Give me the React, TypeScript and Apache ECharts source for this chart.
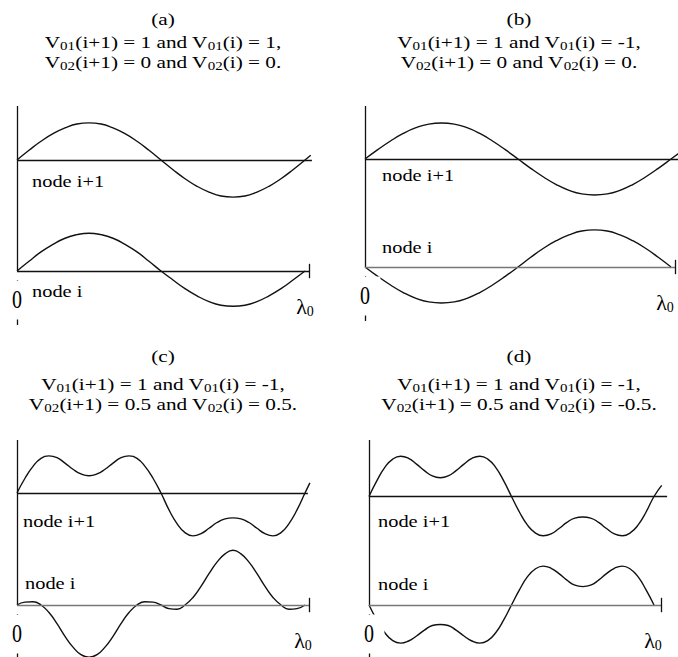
import React, { useEffect, useRef } from "react";
import * as echarts from "echarts";

// ---------- text content ----------
const PANEL_TAGS = ["(a)", "(b)", "(c)", "(d)"];
const V01_NEXT = ["1", "1", "1", "1"];
const V01_CUR = ["1", "-1", "-1", "-1"];
const V02_NEXT = ["0", "0", "0.5", "0.5"];
const V02_CUR = ["0", "0", "0.5", "-0.5"];
const NODE_LABELS = ["node i+1", "node i"];
const X_TICK_VALUES = [0, 1];
const X_TICK_LABELS = ["0", "λ{s|0}"];

// ---------- curve samples (equal steps over one wavelength, x = 0 … 1) ----------
// (a) 24 steps
const A_NEXT = [0, 0.27, 0.52, 0.73, 0.89, 1.0, 1.03, 1.0, 0.89, 0.73, 0.52, 0.27, 0, -0.27, -0.52, -0.73, -0.89, -1.0, -1.03, -1.0, -0.89, -0.73, -0.52, -0.27, 0];
const A_CUR = [0, 0.27, 0.53, 0.74, 0.91, 1.01, 1.05, 1.01, 0.91, 0.74, 0.53, 0.27, 0, -0.25, -0.49, -0.69, -0.85, -0.95, -0.98, -0.95, -0.85, -0.69, -0.49, -0.25, 0];
const A_NEXT_TAIL = [[1.02, 0.13]];
// (b) 24 steps
const B_NEXT = [0, 0.26, 0.5, 0.71, 0.87, 0.97, 1.0, 0.97, 0.87, 0.71, 0.5, 0.26, 0, -0.26, -0.5, -0.71, -0.87, -0.97, -1.0, -0.97, -0.87, -0.71, -0.5, -0.26, 0];
const B_CUR = [0, -0.26, -0.5, -0.71, -0.87, -0.97, -1.0, -0.97, -0.87, -0.71, -0.5, -0.26, 0, 0.27, 0.52, 0.73, 0.89, 1.0, 1.03, 1.0, 0.89, 0.73, 0.52, 0.27, 0];
const B_NEXT_TAIL = [[1.03, 0.19]];
// (c) 36 steps
const C_NEXT = [0, 0.41, 0.74, 0.96, 1.03, 0.98, 0.83, 0.66, 0.53, 0.48, 0.53, 0.66, 0.83, 0.98, 1.03, 0.96, 0.74, 0.41, 0, -0.47, -0.85, -1.1, -1.19, -1.13, -0.98, -0.82, -0.72, -0.69, -0.72, -0.82, -0.98, -1.13, -1.19, -1.1, -0.85, -0.47, 0];
const C_CUR = [0, 0.08, 0.09, 0, -0.21, -0.52, -0.87, -1.17, -1.38, -1.45, -1.38, -1.17, -0.87, -0.52, -0.21, 0, 0.09, 0.08, 0, -0.1, -0.12, 0, 0.21, 0.52, 0.87, 1.19, 1.42, 1.52, 1.42, 1.19, 0.87, 0.52, 0.21, 0, -0.12, -0.1, 0];
const C_NEXT_TAIL = [[1.017, 0.28]];
// (d) 36 steps
const D_NEXT = [0, 0.44, 0.81, 1.04, 1.12, 1.06, 0.9, 0.72, 0.57, 0.52, 0.57, 0.72, 0.9, 1.06, 1.12, 1.04, 0.81, 0.44, 0, -0.43, -0.79, -1.01, -1.09, -1.04, -0.89, -0.72, -0.6, -0.57, -0.6, -0.72, -0.89, -1.04, -1.09, -1.01, -0.79, -0.43, 0];
const D_CUR = [0, -0.42, -0.77, -0.99, -1.06, -1.0, -0.86, -0.7, -0.57, -0.54, -0.57, -0.7, -0.86, -1.0, -1.06, -0.99, -0.77, -0.42, 0, 0.42, 0.78, 1.0, 1.08, 1.02, 0.87, 0.69, 0.55, 0.51, 0.55, 0.69, 0.87, 1.02, 1.08, 1.0, 0.78, 0.42, 0];
const D_NEXT_TAIL = [[1.027, 0.31]];

const NEXT_SERIES = [A_NEXT, B_NEXT, C_NEXT, D_NEXT];
const CUR_SERIES = [A_CUR, B_CUR, C_CUR, D_CUR];
const NEXT_TAILS = [A_NEXT_TAIL, B_NEXT_TAIL, C_NEXT_TAIL, D_NEXT_TAIL];

// ---------- layout (pixels) ----------
const FONT = "Liberation Serif";
const UNIT_PX = 36;
const BELOW_PX = 60;
const X_SPAN = 1.06;
const LAYOUT = [
  { left: 17, top: 106, baseline: 271, next: 160, period: 288, xEnd: 1.014, nextEnd: 1.024, baseColor: "#111", titleX: 163, titleY: [19, 42, 62], nextLab: [15, 21], curLab: [15, 20], lamDx: 0 },
  { left: 365, top: 106, baseline: 267, next: 159, period: 306, xEnd: 1.013, nextEnd: 1.05, baseColor: "#777", titleX: 519, titleY: [19, 42, 62], nextLab: [17, 16], curLab: [17, -20], lamDx: -6 },
  { left: 17, top: 440, baseline: 605, next: 493, period: 288, xEnd: 1.014, nextEnd: 1.01, baseColor: "#777", titleX: 163, titleY: [356, 384, 404], nextLab: [6, 28], curLab: [8, -22], lamDx: -2 },
  { left: 369, top: 440, baseline: 605, next: 496.5, period: 285, xEnd: 1.025, nextEnd: 1.046, baseColor: "#777", titleX: 519, titleY: [356, 384, 404], nextLab: [9, 25], curLab: [9, -21], lamDx: -1 },
];

const toPoints = (values: number[], tail: number[][] = []) => {
  const n = values.length - 1;
  return values.map((v, i) => [i / n, v]).concat(tail);
};

const seg = (a: number[], b: number[], color?: string) => [
  { coord: a, lineStyle: color ? { color } : undefined },
  { coord: b },
];

const lineSeries = (p: number, yIdx: number, data: number[][], marks: any[]) => ({
  type: "line",
  xAxisIndex: p,
  yAxisIndex: yIdx,
  data,
  smooth: 0.5,
  symbol: "none",
  showSymbol: false,
  clip: false,
  silent: true,
  lineStyle: { color: "#111", width: 1.4 },
  markLine: {
    silent: true,
    symbol: ["none", "none"],
    label: { show: false },
    emphasis: { disabled: true },
    lineStyle: { type: "solid", color: "#111", width: 1.3 },
    data: marks,
  },
});

const buildOption = () => {
  const grid: any[] = [];
  const xAxis: any[] = [];
  const yAxis: any[] = [];
  const series: any[] = [];
  LAYOUT.forEach((L, p) => {
    const curMax = (L.baseline - L.top) / UNIT_PX;
    const curMin = -BELOW_PX / UNIT_PX;
    const off = (L.baseline - L.next) / UNIT_PX;
    grid.push({
      left: L.left,
      top: L.top,
      width: L.period * X_SPAN,
      height: L.baseline - L.top + BELOW_PX,
      containLabel: false,
      outerBoundsMode: "none",
    });
    xAxis.push({ gridIndex: p, type: "value", min: 0, max: X_SPAN, show: false });
    yAxis.push({ gridIndex: p, type: "value", min: curMin, max: curMax, show: false });
    yAxis.push({ gridIndex: p, type: "value", min: curMin - off, max: curMax - off, show: false });
    series.push(
      lineSeries(p, 2 * p, toPoints(CUR_SERIES[p]), [
        seg([0, 0], [0, curMax]),
        seg([0, 0], [L.xEnd, 0], L.baseColor),
        seg([L.xEnd, -0.2], [L.xEnd, 0.2]),
        seg([0, -0.25], [0, -1.5]),
      ])
    );
    series.push(
      lineSeries(p, 2 * p + 1, toPoints(NEXT_SERIES[p], NEXT_TAILS[p]), [
        seg([0, 0], [L.nextEnd, 0]),
      ])
    );
  });
  return { animation: false, backgroundColor: "#fff", grid, xAxis, yAxis, series };
};

const txt = (x: number, y: number, text: string, align: string, size: number, scaleX: number, subSize: number, subPad: number, extra: any = {}) => ({
  type: "text",
  x,
  y,
  scaleX,
  z: 100,
  silent: true,
  style: {
    text,
    fontFamily: FONT,
    fontSize: size,
    fill: "#000",
    align,
    textAlign: align,
    verticalAlign: "middle",
    textVerticalAlign: "middle",
    rich: { s: { fontFamily: FONT, fontSize: subSize, fill: "#000", padding: [subPad, 0, 0, 0] } },
    ...extra,
  },
});

const buildGraphics = (chart: any) => {
  const els: any[] = [];
  LAYOUT.forEach((L, p) => {
    const o = chart.convertToPixel({ seriesIndex: 2 * p }, [X_TICK_VALUES[0], 0]);
    const e = chart.convertToPixel({ seriesIndex: 2 * p }, [X_TICK_VALUES[1], 0]);
    const n = chart.convertToPixel({ seriesIndex: 2 * p + 1 }, [0, 0]);
    const line2 = `V{s|01}(i+1) = ${V01_NEXT[p]} and V{s|01}(i) = ${V01_CUR[p]},`;
    const line3 = `V{s|02}(i+1) = ${V02_NEXT[p]} and V{s|02}(i) = ${V02_CUR[p]}.`;
    els.push(txt(L.titleX, L.titleY[0], PANEL_TAGS[p], "center", 17, 1.25, 12, 8));
    els.push(txt(L.titleX, L.titleY[1], line2, "center", 17, 1.25, 12, 8));
    els.push(txt(L.titleX, L.titleY[2], line3, "center", 17, 1.25, 12, 8));
    els.push(txt(n[0] + L.nextLab[0], n[1] + L.nextLab[1], NODE_LABELS[0], "left", 17, 1.2, 12, 8));
    els.push(txt(o[0] + L.curLab[0], o[1] + L.curLab[1], NODE_LABELS[1], "left", 17, 1.2, 12, 8));
    els.push(txt(o[0], o[1] + 29, X_TICK_LABELS[0], "center", 25, 0.8, 12, 8, { backgroundColor: "#fff", padding: [7, 13, 7, 13] }));
    els.push(txt(e[0] + L.lamDx, o[1] + 35, X_TICK_LABELS[1], "center", 22, 1.0, 14, 10));
  });
  return els;
};

export default function App() {
  const ref = useRef<HTMLDivElement>(null);
  useEffect(() => {
    if (!ref.current) return;
    const chart = echarts.init(ref.current, undefined, { renderer: "svg" });
    chart.setOption(buildOption());
    chart.setOption({ graphic: buildGraphics(chart) });
    return () => chart.dispose();
  }, []);
  return (
    <div
      ref={ref}
      style={{ position: "fixed", left: 0, top: 0, width: 678, height: 657, background: "#fff" }}
    />
  );
}
